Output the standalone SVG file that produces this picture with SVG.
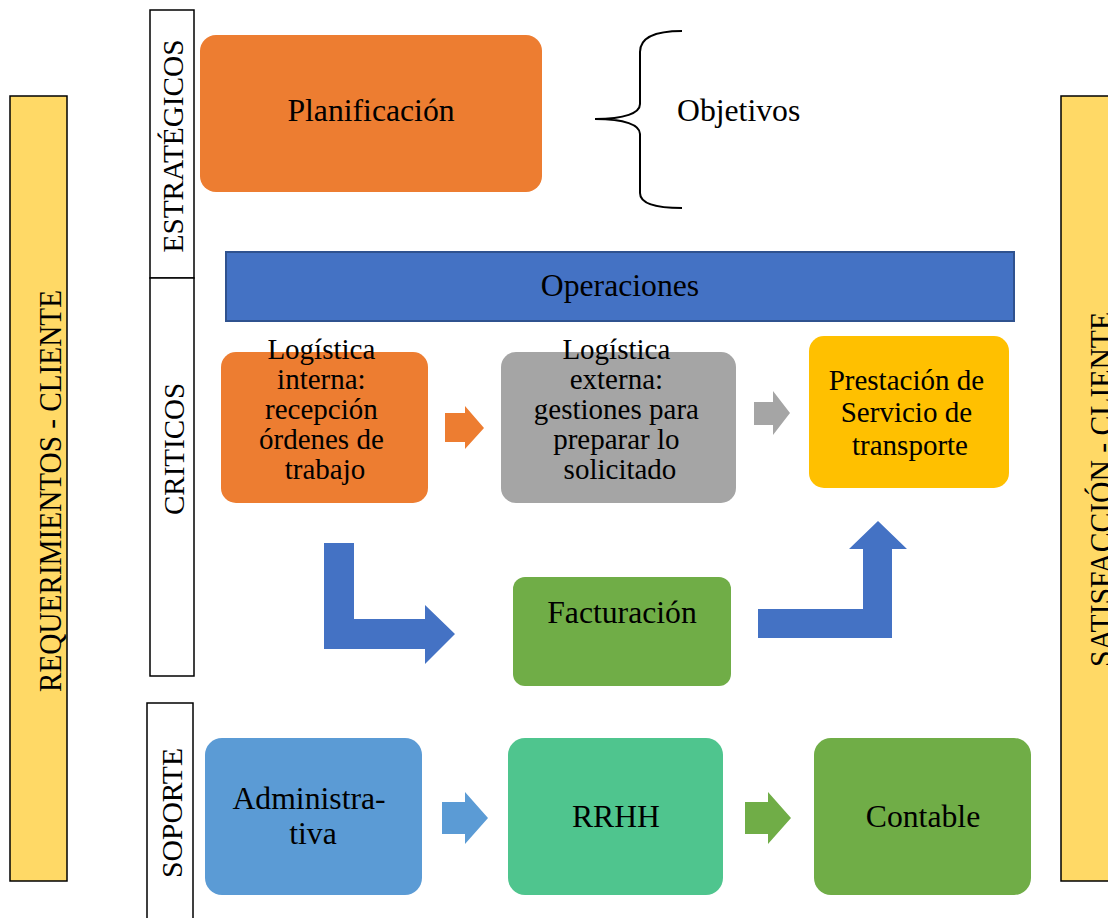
<svg xmlns="http://www.w3.org/2000/svg" width="1108" height="918" viewBox="0 0 1108 918">
  <defs>
    <style>
      .t { font-family: "Liberation Serif", "Times New Roman", serif; fill: #000; text-anchor: middle; }
      .big { font-size: 31.7px; }
      .mid { font-size: 29px; }
      .side { font-size: 31px; }
      .lane { fill: #fff; stroke: #000; stroke-width: 1.5; }
      .client { fill: #FFD966; stroke: #000; stroke-width: 1.5; }
      .brace { fill: none; stroke: #000; stroke-width: 2; }
    </style>
  </defs>
  <rect width="1108" height="918" fill="#fff"/>

  <!-- client bars -->
  <g id="requerimientos">
    <rect class="client" x="10" y="96" width="57" height="785"/>
    <text class="t side" transform="translate(61,491) rotate(-90)" textLength="402" lengthAdjust="spacingAndGlyphs">REQUERIMIENTOS - CLIENTE</text>
  </g>
  <g id="satisfaccion">
    <rect class="client" x="1061" y="96" width="60" height="785"/>
    <text class="t side" transform="translate(1112,489.5) rotate(-90)" textLength="355" lengthAdjust="spacingAndGlyphs">SATISFACCIÓN - CLIENTE</text>
  </g>

  <!-- lane labels -->
  <g id="lane-estrategicos">
    <rect class="lane" x="150" y="10" width="44" height="268"/>
    <text class="t mid" transform="translate(183,146) rotate(-90)" textLength="213" lengthAdjust="spacingAndGlyphs">ESTRATÉGICOS</text>
  </g>
  <g id="lane-criticos">
    <rect class="lane" x="150" y="278" width="44" height="398"/>
    <text class="t mid" transform="translate(184,449) rotate(-90)" textLength="132" lengthAdjust="spacingAndGlyphs">CRITICOS</text>
  </g>
  <g id="lane-soporte">
    <rect class="lane" x="147" y="703" width="46" height="230"/>
    <text class="t mid" transform="translate(182,813) rotate(-90)" textLength="130" lengthAdjust="spacingAndGlyphs">SOPORTE</text>
  </g>

  <!-- strategic level -->
  <g id="planificacion">
    <rect x="200" y="35" width="342" height="157" rx="16" fill="#ED7D31"/>
    <text class="t big" x="371" y="121">Planificación</text>
  </g>
  <g id="objetivos">
    <path class="brace" d="M682,31 C655,31 640,37 640,52 L640,104 C640,113 625,119 595,119 C625,119 640,125 640,134 L640,193 C640,203 655,208 682,208"/>
    <text class="t big" x="677" y="121" style="text-anchor:start">Objetivos</text>
  </g>

  <!-- critical level -->
  <g id="operaciones">
    <rect x="226" y="252" width="788" height="69" fill="#4472C4" stroke="#2F528F" stroke-width="2"/>
    <text class="t big" x="620" y="296">Operaciones</text>
  </g>
  <g id="logistica-interna">
    <rect x="221" y="352" width="207" height="151" rx="15" fill="#ED7D31"/>
    <text class="t mid">
      <tspan x="325" y="359">Logística</tspan>
      <tspan x="325" y="389">interna:</tspan>
      <tspan x="325" y="419">recepción</tspan>
      <tspan x="325" y="449">órdenes de</tspan>
      <tspan x="325" y="479">trabajo</tspan>
    </text>
  </g>
  <g id="logistica-externa">
    <rect x="501" y="352" width="235" height="151" rx="15" fill="#A5A5A5"/>
    <text class="t mid">
      <tspan x="620" y="359">Logística</tspan>
      <tspan x="620" y="389">externa:</tspan>
      <tspan x="620" y="419">gestiones para</tspan>
      <tspan x="620" y="449">preparar lo</tspan>
      <tspan x="620" y="479">solicitado</tspan>
    </text>
  </g>
  <g id="prestacion">
    <rect x="809" y="336" width="200" height="152" rx="15" fill="#FFC000"/>
    <text class="t mid">
      <tspan x="910" y="390">Prestación de</tspan>
      <tspan x="910" y="422">Servicio de</tspan>
      <tspan x="910" y="455">transporte</tspan>
    </text>
  </g>
  <g id="facturacion">
    <rect x="513" y="577" width="218" height="109" rx="12" fill="#70AD47"/>
    <text class="t big" x="622" y="623">Facturación</text>
  </g>

  <!-- support level -->
  <g id="administrativa">
    <rect x="205" y="738" width="217" height="157" rx="17" fill="#5B9BD5"/>
    <text class="t big">
      <tspan x="313" y="809">Administra-</tspan>
      <tspan x="313" y="844">tiva</tspan>
    </text>
  </g>
  <g id="rrhh">
    <rect x="508" y="738" width="215" height="157" rx="17" fill="#4FC58E"/>
    <text class="t big" x="616" y="827">RRHH</text>
  </g>
  <g id="contable">
    <rect x="814" y="738" width="217" height="157" rx="17" fill="#70AD47"/>
    <text class="t big" x="923" y="827">Contable</text>
  </g>

  <!-- block arrows -->
  <g id="connectors">
    <polygon fill="#ED7D31" points="445,413 465,413 465,406 484,428 465,449 465,442 445,442"/>
    <polygon fill="#A5A5A5" points="754,402 773,402 773,391 790,413 773,435 773,425 754,425"/>
    <polygon fill="#4472C4" points="324,543 354,543 354,619 425,619 425,605 455,634 425,664 425,649 324,649"/>
    <polygon fill="#4472C4" points="758,609 863,609 863,549 849,549 878,521 907,549 892,549 892,638 758,638"/>
    <polygon fill="#5B9BD5" points="442,802 465,802 465,792 488,818 465,844 465,834 442,834"/>
    <polygon fill="#70AD47" points="745,802 768,802 768,792 791,818 768,844 768,834 745,834"/>
  </g>
</svg>
